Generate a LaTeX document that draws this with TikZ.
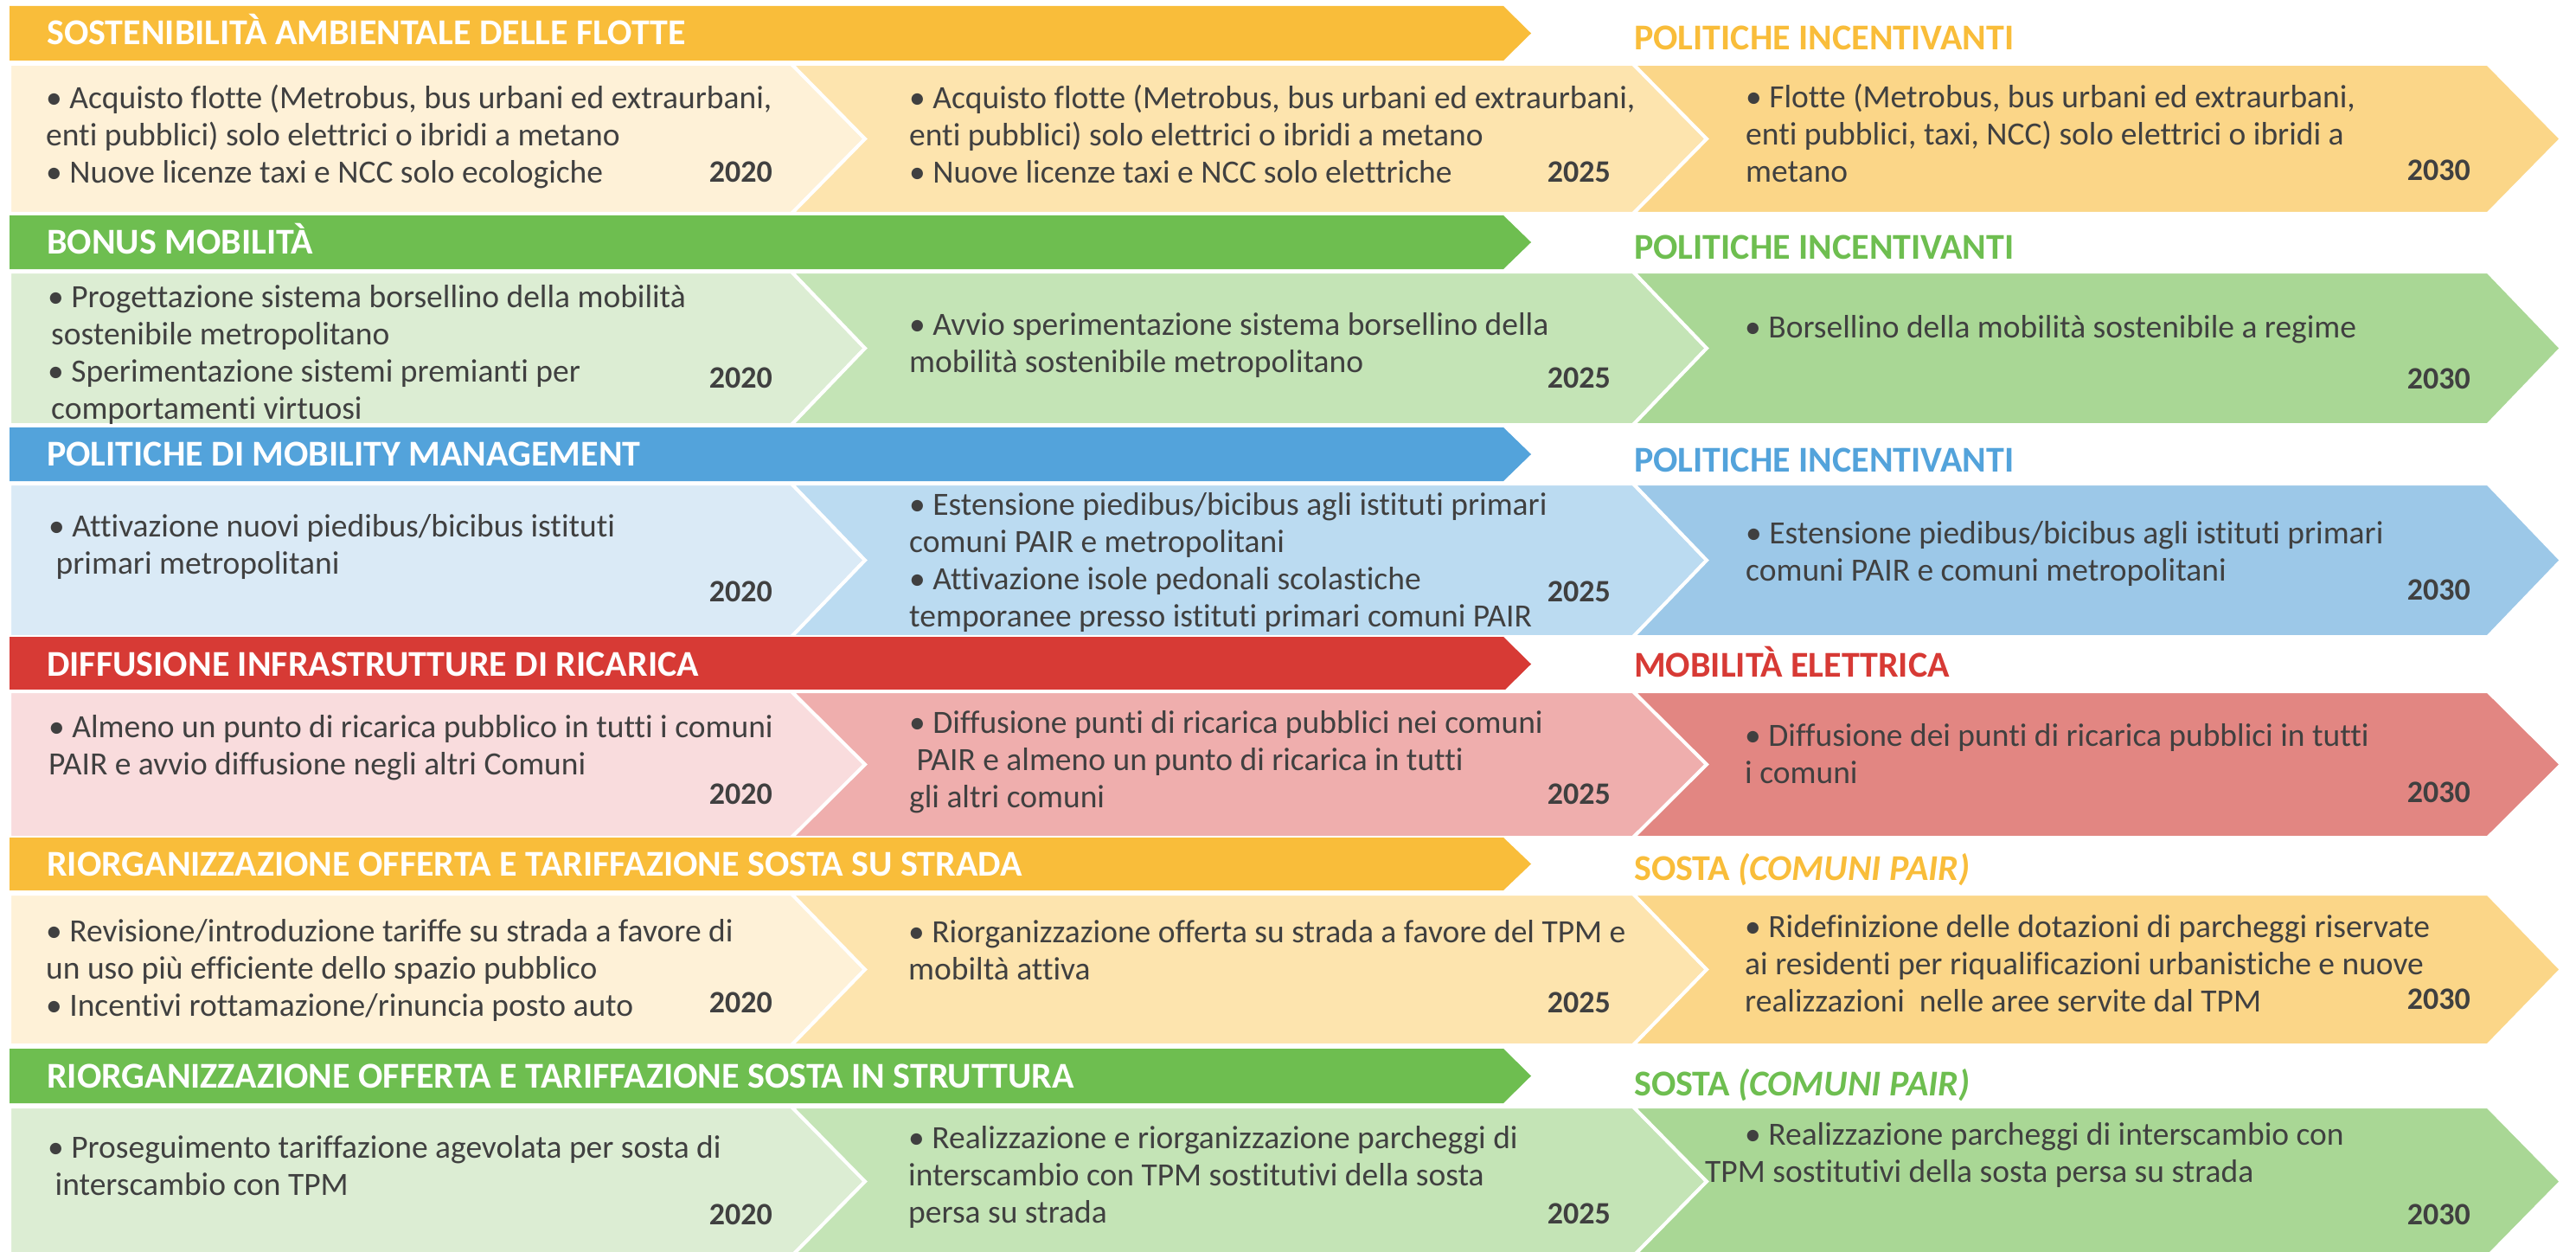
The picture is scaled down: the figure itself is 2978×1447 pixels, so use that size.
\documentclass[tikz,border=0pt]{standalone}
\usepackage{fontspec}
\setmainfont{Carlito}[Ligatures={NoCommon}]
\definecolor{ylwH}{HTML}{F9BD3A}
\definecolor{ylwA}{HTML}{FEF1D7}
\definecolor{ylwB}{HTML}{FDE4AE}
\definecolor{ylwC}{HTML}{FBD688}
\definecolor{grnH}{HTML}{6EBE50}
\definecolor{grnA}{HTML}{DCEDD3}
\definecolor{grnB}{HTML}{C4E4B6}
\definecolor{grnC}{HTML}{A9D795}
\definecolor{bluH}{HTML}{53A3DB}
\definecolor{bluA}{HTML}{DAEAF6}
\definecolor{bluB}{HTML}{BBDBF1}
\definecolor{bluC}{HTML}{9CC8E8}
\definecolor{redH}{HTML}{D73A35}
\definecolor{redA}{HTML}{F9DCDD}
\definecolor{redB}{HTML}{EFAEAD}
\definecolor{redC}{HTML}{E28682}
\definecolor{txtgray}{HTML}{404040}
\newcommand\chevrons[5]{%
  \path[chev,fill=#3] (11,#1) -- (915,#1) -- (1000,{(#1+#2)/2}) -- (915,#2) -- (11,#2) -- cycle;
  \path[chev,fill=#4] (915,#1) -- (1888,#1) -- (1973,{(#1+#2)/2}) -- (1888,#2) -- (915,#2) -- (1000,{(#1+#2)/2}) -- cycle;
  \path[chev,fill=#5] (1888,#1) -- (2876,#1) -- (2961,{(#1+#2)/2}) -- (2876,#2) -- (1888,#2) -- (1973,{(#1+#2)/2}) -- cycle;
}
\newcommand\hdrbar[5]{%
  \fill[#4] (11,#2) -- (1738,#2) -- (1770,{(#2+#3)/2}) -- (1738,#3) -- (11,#3) -- cycle;
  \node[hdrtxt] (#1) at (54,{(#2+#3)/2+13.5}) {#5};
}
\begin{document}
\begin{tikzpicture}[x=1pt,y=-1pt,
  chev/.style={draw=white,line width=4pt,line join=miter},
  body/.style={anchor=base west,inner sep=0pt,align=left,text=txtgray,font={\fontsize{37.5}{43}\selectfont}},
  yearlbl/.style={anchor=base east,inner sep=0pt,text=txtgray,font={\bfseries\fontsize{36}{43}\selectfont}},
  hdrtxt/.style={anchor=base west,inner sep=0pt,text=white,font={\bfseries\fontsize{42}{50}\selectfont}},
  sidelbl/.style={anchor=base west,inner sep=0pt,font={\bfseries\fontsize{42}{50}\selectfont}}]
\useasboundingbox (0,0) rectangle (2978,1447);
\fill[white] (0,0) rectangle (2978,1447);
% multi-line body nodes are placed at the baseline of their LAST line

% ---------- Row 1
\hdrbar{h1}{7}{70}{ylwH}{SOSTENIBILITÀ AMBIENTALE DELLE FLOTTE}
\node[sidelbl,text=ylwH] (l1) at (1889,58) {POLITICHE INCENTIVANTI};
\chevrons{74}{247}{ylwA}{ylwB}{ylwC}
\node[body] (r1c1) at (53,212) {• Acquisto flotte (Metrobus, bus urbani ed extraurbani,\\enti pubblici) solo elettrici o ibridi a metano\\• Nuove licenze taxi e NCC solo ecologiche};
\node[yearlbl] (r1y1) at (893,211) {2020};
\node[body] (r1c2) at (1051,212) {• Acquisto flotte (Metrobus, bus urbani ed extraurbani,\\enti pubblici) solo elettrici o ibridi a metano\\• Nuove licenze taxi e NCC solo elettriche};
\node[yearlbl] (r1y2) at (1862,211) {2025};
\node[body] (r1c3) at (2018,211) {• Flotte (Metrobus, bus urbani ed extraurbani,\\enti pubblici, taxi, NCC) solo elettrici o ibridi a\\metano};
\node[yearlbl] (r1y3) at (2856,209) {2030};

% ---------- Row 2
\hdrbar{h2}{249}{311}{grnH}{BONUS MOBILITÀ}
\node[sidelbl,text=grnH] (l2) at (1889,299) {POLITICHE INCENTIVANTI};
\chevrons{314}{491}{grnA}{grnB}{grnC}
\node[body] (r2c1) at (55,484) {• Progettazione sistema borsellino della mobilità\\\hspace*{4pt}sostenibile metropolitano\\• Sperimentazione sistemi premianti per\\\hspace*{4pt}comportamenti virtuosi};
\node[yearlbl] (r2y1) at (893,448) {2020};
\node[body] (r2c2) at (1051,430) {• Avvio sperimentazione sistema borsellino della\\mobilità sostenibile metropolitano};
\node[yearlbl] (r2y2) at (1862,448) {2025};
\node[body] (r2c3) at (2017,390) {• Borsellino della mobilità sostenibile a regime};
\node[yearlbl] (r2y3) at (2856,449) {2030};

% ---------- Row 3
\hdrbar{h3}{494}{556}{bluH}{POLITICHE DI MOBILITY MANAGEMENT}
\node[sidelbl,text=bluH] (l3) at (1889,545) {POLITICHE INCENTIVANTI};
\chevrons{559}{736}{bluA}{bluB}{bluC}
\node[body] (r3c1) at (56,663) {• Attivazione nuovi piedibus/bicibus istituti\\\ primari metropolitani};
\node[yearlbl] (r3y1) at (893,695) {2020};
\node[body] (r3c2) at (1051,724) {• Estensione piedibus/bicibus agli istituti primari\\comuni PAIR e metropolitani\\• Attivazione isole pedonali scolastiche\\temporanee presso istituti primari comuni PAIR};
\node[yearlbl] (r3y2) at (1862,695) {2025};
\node[body] (r3c3) at (2018,671) {• Estensione piedibus/bicibus agli istituti primari\\comuni PAIR e comuni metropolitani};
\node[yearlbl] (r3y3) at (2856,693) {2030};

% ---------- Row 4
\hdrbar{h4}{736}{799}{redH}{DIFFUSIONE INFRASTRUTTURE DI RICARICA}
\node[sidelbl,text=redH] (l4) at (1889,782) {MOBILITÀ ELETTRICA};
\chevrons{799}{968}{redA}{redB}{redC}
\node[body] (r4c1) at (56,895) {• Almeno un punto di ricarica pubblico in tutti i comuni\\PAIR e avvio diffusione negli altri Comuni};
\node[yearlbl] (r4y1) at (893,929) {2020};
\node[body] (r4c2) at (1051,933) {• Diffusione punti di ricarica pubblici nei comuni\\\ PAIR e almeno un punto di ricarica in tutti\\gli altri comuni};
\node[yearlbl] (r4y2) at (1862,929) {2025};
\node[body] (r4c3) at (2017,905) {• Diffusione dei punti di ricarica pubblici in tutti\\i comuni};
\node[yearlbl] (r4y3) at (2856,927) {2030};

% ---------- Row 5
\hdrbar{h5}{968}{1029}{ylwH}{RIORGANIZZAZIONE OFFERTA E TARIFFAZIONE SOSTA SU STRADA}
\node[sidelbl,text=ylwH] (l5) at (1889,1017) {SOSTA \textit{(COMUNI PAIR)}};
\chevrons{1033}{1208}{ylwA}{ylwB}{ylwC}
\node[body] (r5c1) at (53,1174) {• Revisione/introduzione tariffe su strada a favore di\\un uso più efficiente dello spazio pubblico\\• Incentivi rottamazione/rinuncia posto auto};
\node[yearlbl] (r5y1) at (893,1170) {2020};
\node[body] (r5c2) at (1050,1132) {• Riorganizzazione offerta su strada a favore del TPM e\\mobiltà attiva};
\node[yearlbl] (r5y2) at (1862,1170) {2025};
\node[body] (r5c3) at (2017,1169) {• Ridefinizione delle dotazioni di parcheggi riservate\\ai residenti per riqualificazioni urbanistiche e nuove\\realizzazioni\ \ nelle aree servite dal TPM};
\node[yearlbl] (r5y3) at (2856,1166) {2030};

% ---------- Row 6
\hdrbar{h6}{1212}{1275}{grnH}{RIORGANIZZAZIONE OFFERTA E TARIFFAZIONE SOSTA IN STRUTTURA}
\node[sidelbl,text=grnH] (l6) at (1889,1266) {SOSTA \textit{(COMUNI PAIR)}};
\chevrons{1279}{1452}{grnA}{grnB}{grnC}
\node[body] (r6c1) at (55,1381) {• Proseguimento tariffazione agevolata per sosta di\\\ interscambio con TPM};
\node[yearlbl] (r6y1) at (893,1415) {2020};
\node[body] (r6c2) at (1050,1413) {• Realizzazione e riorganizzazione parcheggi di\\interscambio con TPM sostitutivi della sosta\\persa su strada};
\node[yearlbl] (r6y2) at (1862,1414) {2025};
\node[body] (r6c3) at (2017,1366) {• Realizzazione parcheggi di interscambio con\\\hspace*{-46pt}TPM sostitutivi della sosta persa su strada};
\node[yearlbl] (r6y3) at (2856,1415) {2030};
\end{tikzpicture}
\end{document}
